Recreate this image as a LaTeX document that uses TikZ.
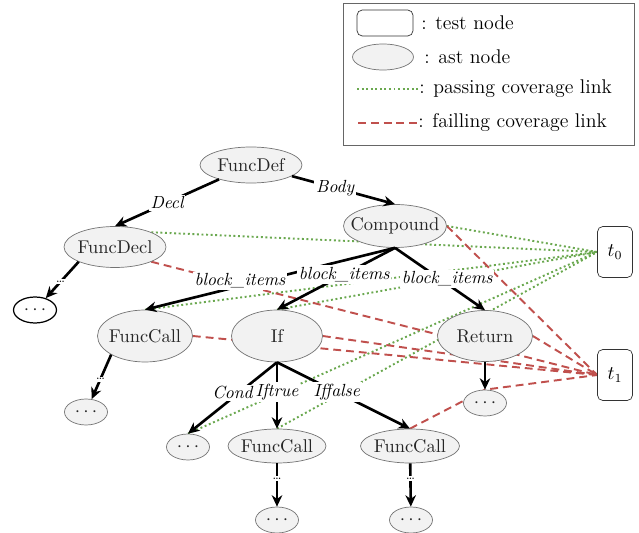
\documentclass[tikz,border=0pt]{standalone}
\usetikzlibrary{shapes.geometric}
\usetikzlibrary{arrows.meta}
\usetikzlibrary{backgrounds}
\definecolor{passgreen}{RGB}{106,168,79}
\definecolor{failred}{RGB}{192,80,77}
\tikzstyle{ast}=[ellipse, draw=black!55, fill=black!5, text=black!85, inner xsep=-6pt, inner ysep=0pt, font=\fontsize{10.5}{12.6}\selectfont]
\tikzstyle{dotsnode}=[ast, minimum width=0.86cm, minimum height=0.52cm]
\tikzstyle{testnode}=[rectangle, rounded corners=3pt, draw=black!80, minimum width=0.7cm, minimum height=1.02cm, font=\fontsize{10.5}{12.6}\selectfont]
\tikzstyle{keytext}=[anchor=west, inner sep=0pt, font=\fontsize{11.3}{13.5}\selectfont]
\tikzstyle{astedge}=[line width=1.5pt, -{Stealth[length=6.5pt, width=6pt]}]
\tikzstyle{edgelabel}=[fill=white, inner sep=1pt, font=\itshape]
\tikzstyle{dotslabel}=[fill=white, inner sep=1pt, font=\scriptsize]
\tikzstyle{passlink}=[passgreen, line width=1.1pt, dash pattern=on 1.1pt off 1.5pt]
\tikzstyle{faillink}=[failred, line width=1.1pt, dash pattern=on 4.5pt off 2.8pt]

\begin{document}
\begin{tikzpicture}[x=0.02cm, y=-0.02cm]
  \useasboundingbox (0,0) rectangle (639,533);
  % legend
  \draw[black!60] (343,3) rectangle (634,145);
  \node[testnode, minimum width=1.12cm, minimum height=0.52cm] (keytest) at (385,23) {};
  \node[keytext] (keytesttxt) at (421,23) {: test node};
  \node[ast, minimum width=1.22cm, minimum height=0.52cm] (keyast) at (383,57) {};
  \node[keytext] (keyasttxt) at (424,57) {: ast node};
  \coordinate (keypass) at (357,89);
  \node[keytext] (keypasstxt) at (419,89) {: passing coverage link};
  \draw[passlink] (keypass) -- (keypasstxt.west);
  \coordinate (keyfail) at (358,123);
  \node[keytext] (keyfailtxt) at (418,123) {: failling coverage link};
  \draw[faillink] (keyfail) -- (keyfailtxt.west);

  % ast nodes
  \node[ast, minimum width=2.04cm, minimum height=0.72cm] (fdef) at (251,165) {FuncDef};
  \node[ast, minimum width=2.04cm, minimum height=0.82cm] (fdecl) at (115,247) {FuncDecl};
  \node[ast, minimum width=2.06cm, minimum height=0.86cm] (cmp) at (395,226) {Compound};
  \node[dotsnode, draw=black, fill=white, line width=0.7pt] (dl) at (35,310) {$\cdots$};
  \node[ast, minimum width=1.9cm, minimum height=1.04cm] (fcl) at (145,336) {FuncCall};
  \node[ast, minimum width=1.82cm, minimum height=1.04cm] (if) at (277,336) {If};
  \node[ast, minimum width=1.9cm, minimum height=1.02cm] (ret) at (485,336) {Return};
  \node[dotsnode] (dll) at (86,412) {$\cdots$};
  \node[dotsnode] (rdots) at (485,403) {$\cdots$};
  \node[dotsnode] (cdots) at (188,447) {$\cdots$};
  \node[ast, minimum width=1.96cm, minimum height=0.68cm] (fcm) at (277,446) {FuncCall};
  \node[ast, minimum width=1.98cm, minimum height=0.68cm] (fcr) at (410,446) {FuncCall};
  \node[dotsnode] (dm) at (277,520) {$\cdots$};
  \node[dotsnode] (dr) at (411,520) {$\cdots$};

  % test nodes
  \node[testnode] (t0) at (615,252) {$t_0$};
  \node[testnode] (t1) at (615,375) {$t_1$};

  % coverage links
  \begin{scope}[on background layer]
    \draw[passlink] (cmp.east) -- (t0.west);
    \draw[passlink] (fdecl.north east) -- (t0.west);
    \draw[passlink] (fcl.north) -- (t0.west);
    \draw[passlink] (if.north) -- (t0.west);
    \draw[passlink] (cdots.north) -- (t0.west);
    \draw[passlink] (fcm.north) -- (t0.west);
    \draw[faillink] (cmp.east) -- (t1.west);
    \draw[faillink] (fdecl.south east) -- (t1.west);
    \draw[faillink] (fcl.east) -- (t1.west);
    \draw[faillink] (if.east) -- (t1.west);
    \draw[faillink] (ret.east) -- (t1.west);
    \draw[faillink] (fcr.north) -- (rdots.north) -- (t1.west);
  \end{scope}

  % ast edges
  \draw[astedge] (fdef) -- node[edgelabel, pos=.5] {Decl} (fdecl.north);
  \draw[astedge] (fdef) -- node[edgelabel, pos=.42] {Body} (cmp.north);
  \draw[astedge] (cmp.south) -- node[edgelabel, pos=.62, yshift=3pt] {block\_items} (fcl.north);
  \draw[astedge] (cmp.south) -- node[edgelabel, pos=.43] {block\_items} (if.north);
  \draw[astedge] (cmp.south) -- node[edgelabel, pos=.58, yshift=3pt] {block\_items} (ret.north);
  \draw[astedge] (ret) -- (rdots);
  \draw[astedge] (if.south) -- node[edgelabel, pos=.5, yshift=3pt] {Cond} (cdots.north);
  \draw[astedge] (if.south) -- node[edgelabel, pos=.45] {Iftrue} (fcm.north);
  \draw[astedge] (if.south) -- node[edgelabel, pos=.45] {Iffalse} (fcr.north);
  \draw[astedge] (fdecl.south west) -- node[dotslabel, pos=.55] {\ldots} (dl);
  \draw[astedge] (fcl.south west) -- node[dotslabel, pos=.55] {\ldots} (dll);
  \draw[astedge] (fcm) -- node[dotslabel, pos=.35] {\ldots} (dm);
  \draw[astedge] (fcr) -- node[dotslabel, pos=.35] {\ldots} (dr);
\end{tikzpicture}
\end{document}
